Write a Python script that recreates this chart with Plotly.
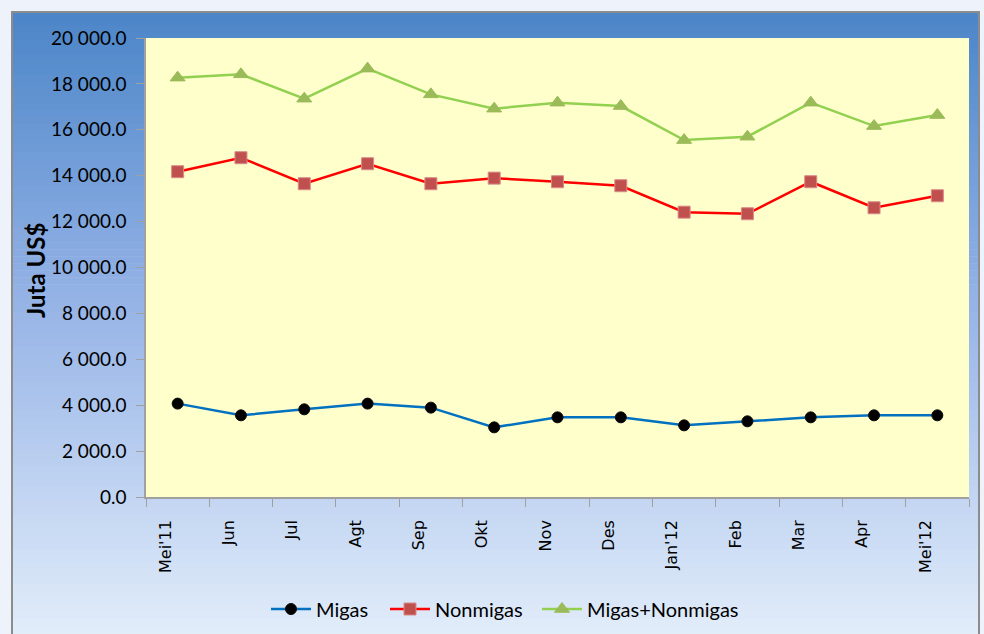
import plotly.graph_objects as go

categories = ["Mei'11", "Jun", "Jul", "Agt", "Sep", "Okt", "Nov", "Des",
              "Jan'12", "Feb", "Mar", "Apr", "Mei'12"]
migas = [4069, 3559, 3820, 4069, 3894, 3035, 3471, 3471, 3122, 3297, 3471, 3559, 3559]
nonmigas = [14173, 14784, 13650, 14522, 13650, 13894, 13737, 13563, 12411, 12342, 13737, 12603, 13127]
total = [18273, 18417, 17357, 18665, 17544, 16921, 17182, 17034, 15551, 15700, 17182, 16162, 16642]
y_ticks = [0, 2000, 4000, 6000, 8000, 10000, 12000, 14000, 16000, 18000, 20000]

W, H = 984, 634
L, R, T, B = 146, 969, 38, 497


def px_x(p):
    return (p - L) / (R - L)


def px_y(p):
    return (B - p) / (B - T)


def lerp(c1, c2, t):
    return tuple(round(a + (b - a) * t) for a, b in zip(c1, c2))


shapes = []
top_c = (76, 134, 200)
mid_c = (148, 178, 230)
bot_c = (226, 237, 250)
box_l, box_r, box_t, box_b = 12, 979, 12, 640
n = 90
for i in range(n):
    ya = box_t + (box_b - box_t) * i / n
    yb = box_t + (box_b - box_t) * (i + 1) / n
    t = i / (n - 1)
    if t < 0.45:
        c = lerp(top_c, mid_c, t / 0.45)
    else:
        c = lerp(mid_c, bot_c, (t - 0.45) / 0.55)
    shapes.append(dict(type="rect", xref="paper", yref="paper", layer="below",
                       x0=px_x(box_l), x1=px_x(box_r), y0=px_y(ya), y1=px_y(yb + 0.6),
                       fillcolor="rgb(%d,%d,%d)" % c, line=dict(width=0)))
# outer box border
shapes.append(dict(type="rect", xref="paper", yref="paper", layer="below",
                   x0=px_x(box_l), x1=px_x(box_r), y0=px_y(box_t), y1=px_y(box_b),
                   fillcolor="rgba(0,0,0,0)", line=dict(color="#8c8c8c", width=2)))
# plot area
shapes.append(dict(type="rect", xref="paper", yref="paper", layer="below",
                   x0=0, x1=1, y0=0, y1=1,
                   fillcolor="#ffffcc", line=dict(width=0)))

font_main = "Lato, Liberation Sans, Arial, sans-serif"

fig = go.Figure()
fig.add_trace(go.Scatter(
    x=categories, y=migas, name="Migas", mode="lines+markers", legend="legend",
    line=dict(color="#0070c0", width=2.5),
    marker=dict(symbol="circle", size=11, color="black",
                line=dict(color="#0a0a0a", width=1))))
fig.add_trace(go.Scatter(
    x=categories, y=nonmigas, name="Nonmigas", mode="lines+markers", legend="legend2",
    line=dict(color="#ff0000", width=2.5),
    marker=dict(symbol="square", size=12, color="#c0504d",
                line=dict(color="#d98a88", width=1))))
fig.add_trace(go.Scatter(
    x=categories, y=total, name="Migas+Nonmigas", mode="lines+markers", legend="legend3",
    line=dict(color="#92d050", width=2.5),
    marker=dict(symbol="triangle-up", size=13, color="#9bbb59",
                line=dict(color="#9bbb59", width=1))))


def leg(start_px):
    return dict(orientation="h", x=px_x(start_px - 6), xanchor="left",
                y=px_y(609), yanchor="middle",
                font=dict(family=font_main, size=20, color="black"),
                bgcolor="rgba(0,0,0,0)", itemwidth=40)


fig.update_layout(
    width=W, height=H,
    margin=dict(l=L, r=W - R, t=T, b=H - B, autoexpand=False),
    paper_bgcolor="#eef2fa",
    plot_bgcolor="rgba(0,0,0,0)",
    separators=". ",
    shapes=shapes,
    showlegend=True,
    legend=leg(272), legend2=leg(391), legend3=leg(543),
    xaxis=dict(
        type="category", tickson="boundaries", ticks="outside", ticklen=8,
        tickcolor="#a0a0a0", showline=True, linecolor="#a0a0a0", linewidth=1.5,
        showgrid=False, tickangle=-90, ticklabelshift=-12, ticklabelstandoff=15,
        automargin=False,
        tickfont=dict(family="DejaVu Sans, sans-serif", size=16, color="black"),
        range=[-0.5, len(categories) - 0.5]),
    yaxis=dict(
        range=[0, 20000], tickvals=y_ticks, tickformat=",.1f",
        ticks="outside", ticklen=8, tickcolor="#a0a0a0",
        showline=True, linecolor="#a0a0a0", linewidth=1.5,
        showgrid=False, zeroline=False, ticklabelstandoff=6,
        automargin=False,
        tickfont=dict(family=font_main, size=19, color="black")),
    annotations=[dict(text="<b>Juta US$</b>", textangle=-90, showarrow=False,
                      xref="paper", yref="paper", x=px_x(35), y=px_y(270),
                      xanchor="center", yanchor="middle",
                      font=dict(family=font_main, size=24, color="black"))],
)

fig.write_html("out.html", config={"displayModeBar": False},
               post_script="document.body.style.margin='0';")
